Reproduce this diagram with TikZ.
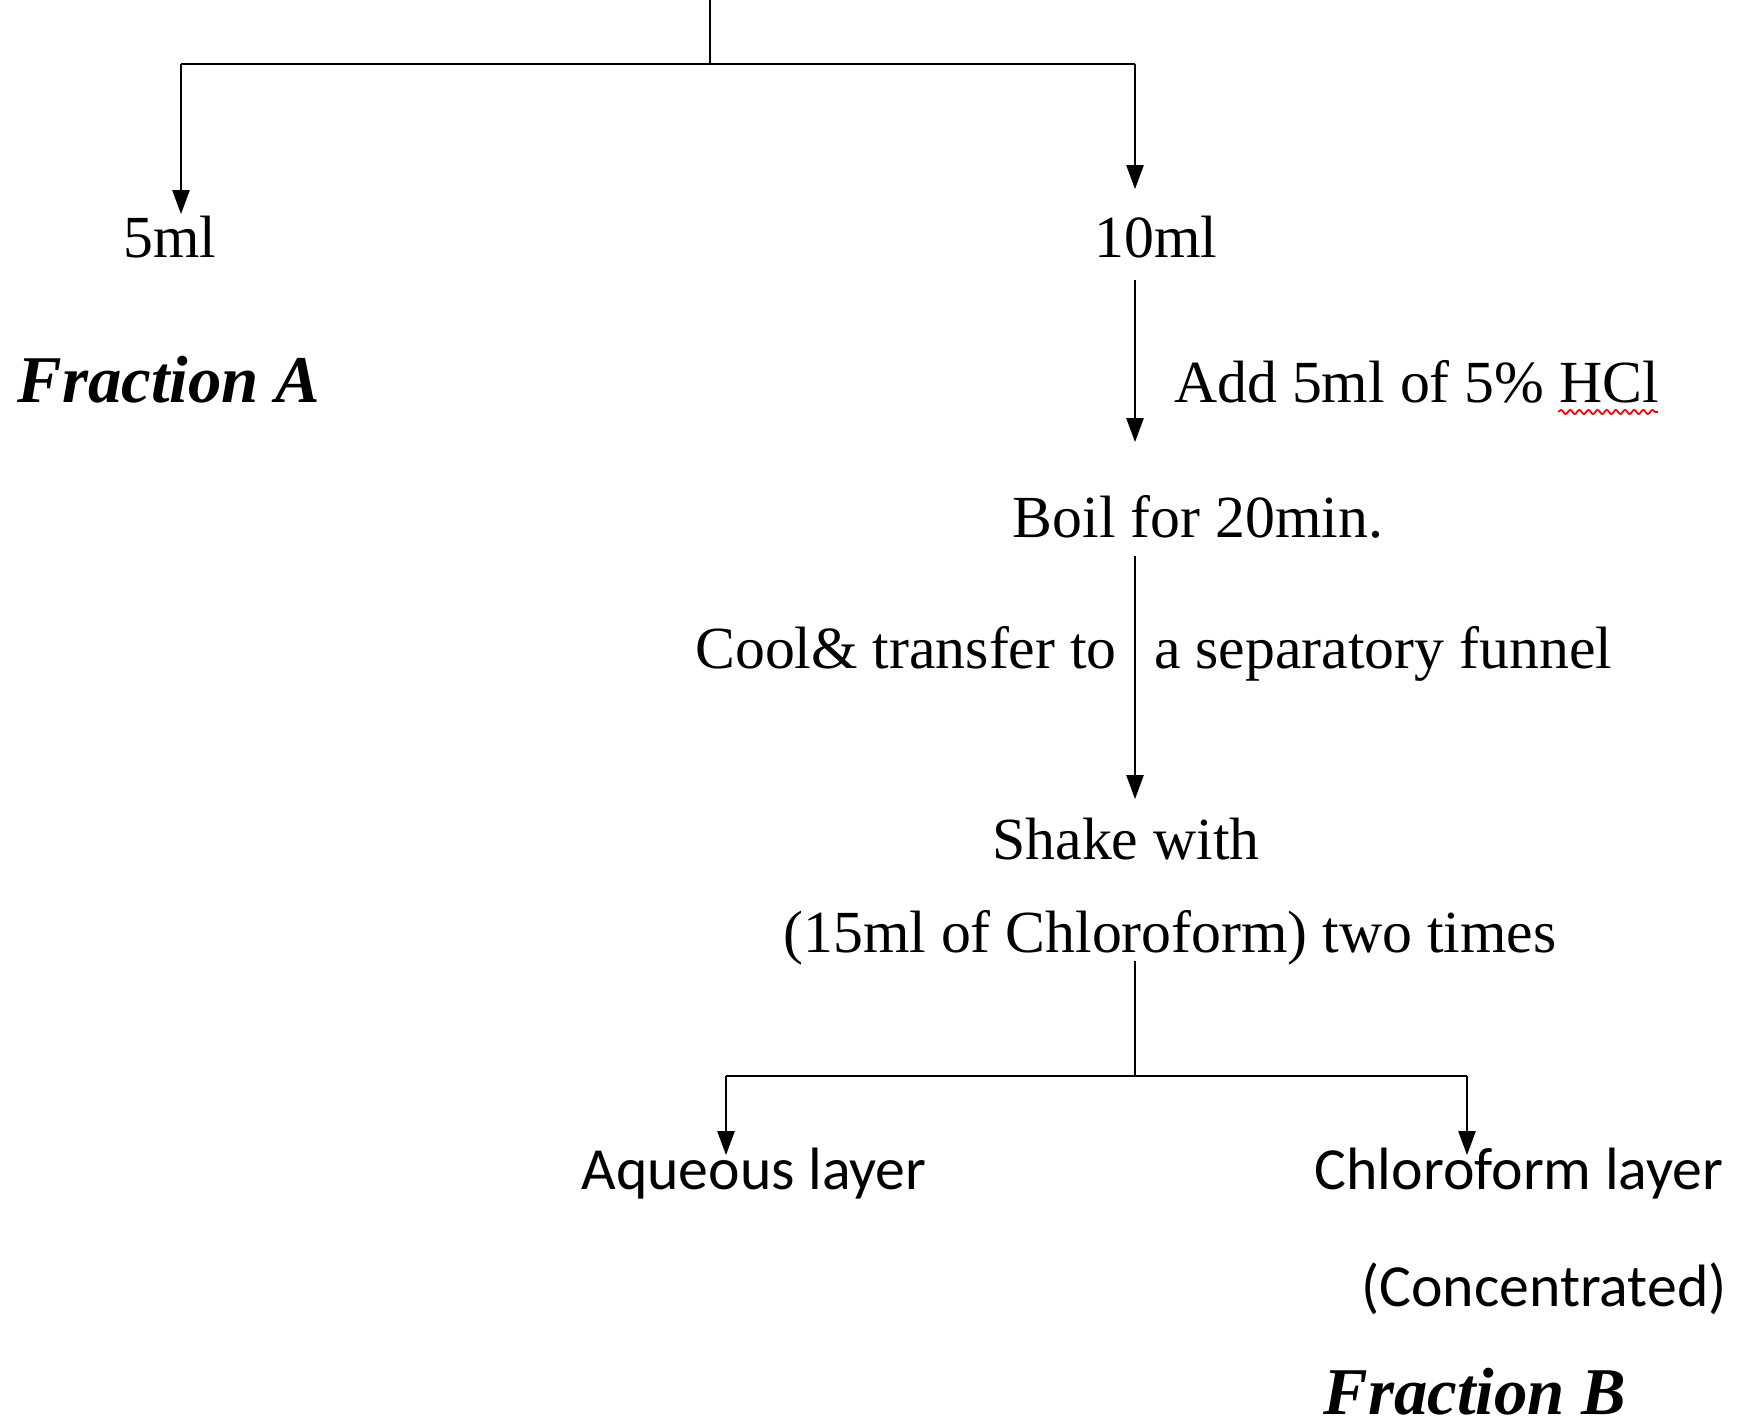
\documentclass[tikz,border=0pt]{standalone}
\usepackage{fontspec}
\setmainfont{Liberation Serif}
\newfontfamily\calibrifont{Carlito}
\usetikzlibrary{arrows.meta,decorations.pathmorphing}

\begin{document}
\begin{tikzpicture}[font=\fontsize{17}{20}\selectfont,
  every node/.style={inner sep=2pt, text height=0.66em, text depth=0pt},
  sans/.style={font=\fontsize{17}{20}\selectfont\calibrifont},
  fraction/.style={font=\fontsize{19}{22}\selectfont\bfseries\itshape},
  >={Triangle[length=0.24cm,width=0.17cm]}, line width=0.7pt]
\useasboundingbox (0,0) rectangle (17.39,14.26);

% first split
\coordinate (top) at (7.10,14.26);
\coordinate (split) at (7.10,13.62);
\coordinate (brA) at (1.81,13.62);
\coordinate (brB) at (11.35,13.62);
\node (ml5) at (1.70,11.80) {5ml};
\node (ml10) at (11.56,11.80) {10ml};
\node[fraction] (fracA) at (1.69,10.35) {Fraction A};
\draw (top) -- (split);
\draw (brA) -- (brB);
\draw[->,shorten >=0.12cm] (brA) -- (brA |- ml5.north);
\draw[->,shorten >=0.37cm] (brB) -- (brB |- ml10.north);

% steps on the 10ml side
\node[anchor=west] (hcl) at (11.66,10.35) {Add 5ml of 5\% HCl};
\node (boil) at (11.98,9.00) {Boil for 20min.};
\node[anchor=east] (cool) at (11.25,7.69) {Cool\& transfer to};
\node[anchor=west] (funnel) at (11.46,7.69) {a separatory funnel};
\node (shake) at (11.26,5.78) {Shake with};
\node (chl) at (11.70,4.85) {(15ml of Chloroform) two times};
\draw[->,shorten <=0.14cm,shorten >=0.64cm] (brB |- ml10.south) -- (brB |- boil.north);
\draw[->,shorten <=0.10cm,shorten >=0.29cm] (brB |- boil.south) -- (brB |- shake.north);
\draw[red,line width=0.5pt,decorate,decoration={snake,amplitude=0.6pt,segment length=2.6pt}]
  ([xshift=-1.09cm,yshift=-0.21cm]hcl.east) -- ([xshift=-0.09cm,yshift=-0.21cm]hcl.east);

% second split
\coordinate (split2) at (11.35,3.50);
\coordinate (brC) at (7.26,3.50);
\coordinate (brD) at (14.67,3.50);
\node[sans] (aq) at (7.54,2.48) {Aqueous layer};
\node[sans] (chlayer) at (15.19,2.48) {Chloroform layer};
\node[sans] (conc) at (15.44,1.31) {(Concentrated)};
\node[fraction] (fracB) at (14.75,0.23) {Fraction B};
\draw (split2 |- chl.south) -- (split2);
\draw (brC) -- (brD);
\draw[->,shorten >=0.03cm] (brC) -- (brC |- aq.north);
\draw[->,shorten >=0.03cm] (brD) -- (brD |- chlayer.north);
\end{tikzpicture}
\end{document}
